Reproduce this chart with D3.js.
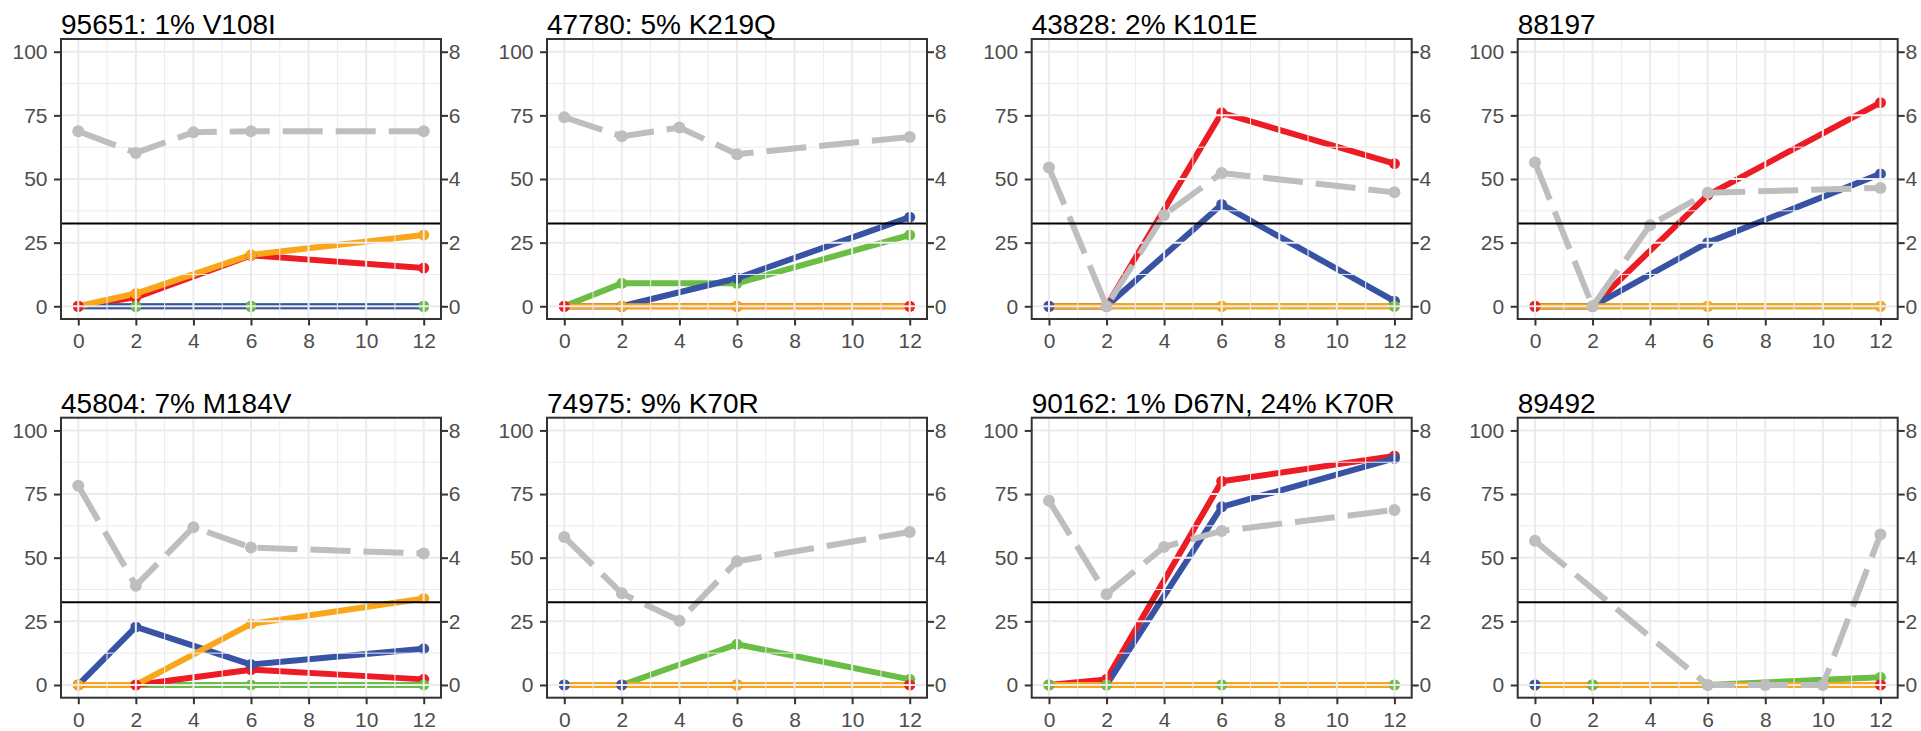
<!DOCTYPE html>
<html><head><meta charset="utf-8">
<script src="https://cdn.jsdelivr.net/npm/d3@7"></script>
<style>
body{margin:0;background:#fff}
svg{display:block}
text{font-family:"Liberation Sans",Arial,Helvetica,sans-serif}
</style>
</head><body>
<svg id="chart" width="1921" height="731"></svg>
<script>
// ---------------- data ----------------
const titles = ["95651: 1% V108I", "47780: 5% K219Q", "43828: 2% K101E", "88197",
                "45804: 7% M184V", "74975: 9% K70R", "90162: 1% D67N, 24% K70R", "89492"];
const mutTimes = [[0,2,6,12],[0,2,6,12],[0,2,6,12],[0,2,6,12],
                  [0,2,6,12],[0,2,6,12],[0,2,6,12],[0,2,6,12]];
const redVals    = [[0,3.5,20,15],[0,0,0,0],[0,0,76,56],[0,0,43.7,80],
                    [0,0,6,2.2],[0,0,0,0],[0,2.2,80,90],[0,0,0,0]];
const blueVals   = [[0,0,0,0],[0,0,11,35],[0,0,40,2],[0,0,25,52],
                    [0,22.8,8,14.2],[0,0,0,0],[0,0,70,89],[0,0,0,0]];
const greenVals  = [[0,0,0,0],[0,9,9,28],[0,0,0,0],[0,0,0,0],
                    [0,0,0,0],[0,0,16,2.2],[0,0,0,0],[0,0,0,3]];
const orangeVals = [[0,5,20.2,28],[0,0,0,0],[0,0,0,0],[0,0,0,0],
                    [0,0,24,34],[0,0,0,0],[0,0,0,0],[0,0,0,0]];
// series whose dot is drawn last at each mutation time point
const dotOnTop = [["red","green","green","green"],["red","orange","orange","red"],
                  ["blue","orange","orange","green"],["red","orange","orange","orange"],
                  ["orange","red","green","green"],["blue","blue","orange","red"],
                  ["green","green","green","green"],["blue","green","orange","red"]];
// secondary (right axis) series, dashed grey
const vlTimes  = [[0,2,4,6,12],[0,2,4,6,12],[0,2,4,6,12],[0,2,4,6,12],
                  [0,2,4,6,12],[0,2,4,6,12],[0,2,4,6,12],[0,6,8,10,12]];
const vlValues = [[5.5,4.82,5.47,5.5,5.5],[5.94,5.34,5.62,4.78,5.32],
                  [4.36,0,2.87,4.19,3.58],[4.52,0,2.55,3.57,3.72],
                  [6.26,3.12,4.96,4.32,4.13],[4.65,2.88,2.02,3.89,4.81],
                  [5.79,2.85,4.34,4.84,5.5],[4.53,0,0,0,4.73]];
const thresholdValue = 32.5;
const leftTicks  = [0,25,50,75,100];
const leftMinor  = [12.5,37.5,62.5,87.5];
const rightTicks = [0,2,4,6,8];
const xTicks     = [0,2,4,6,8,10,12];
const xMinor     = [1,3,5,7,9,11];

// ---------------- style/layout ----------------
const seriesNames = ["green","red","blue","orange"];
const seriesVals = {green: greenVals, red: redVals, blue: blueVals, orange: orangeVals};
const colors = {red:"#ED1C24", blue:"#3853A4", green:"#6ABD45", orange:"#FAA61A", grey:"#BEBEBE"};
const panelLefts = [61, 547, 1031.7, 1517.7];
const rowTops = [39, 417.7];
const panelW = 380, panelH = 280;

const svg = d3.select("#chart");
svg.append("rect").attr("width",1921).attr("height",731).attr("fill","#fff");

titles.forEach((title, p) => {
  const L = panelLefts[p % 4], T = rowTops[Math.floor(p / 4)];
  const R = L + panelW, B = T + panelH;
  const x = d3.scaleLinear().domain([-0.6, 12.6]).range([L, R]);
  const y = d3.scaleLinear().domain([-5, 105]).range([B, T]);
  const yR = d3.scaleLinear().domain([-0.4, 8.4]).range([B, T]);
  const g = svg.append("g");
  const clipId = "clip" + p;
  svg.append("clipPath").attr("id", clipId).append("rect")
     .attr("x", L).attr("y", T).attr("width", panelW).attr("height", panelH);
  const pg = g.append("g").attr("clip-path", `url(#${clipId})`);

  // coloured lines
  const line = d3.line().x(d => x(d[0])).y(d => y(d[1]));
  seriesNames.forEach(s => {
    const pts = mutTimes[p].map((t, i) => [t, seriesVals[s][p][i]]);
    pg.append("path").datum(pts).attr("d", line)
      .attr("fill","none").attr("stroke", colors[s]).attr("stroke-width", 6)
      .attr("stroke-linejoin","round");
  });
  // coloured dots
  const dots = [];
  mutTimes[p].forEach((t, i) => {
    seriesNames.forEach((s, k) => {
      dots.push({t, v: seriesVals[s][p][i], s, key: k + (dotOnTop[p][i] === s ? 10 : 0)});
    });
  });
  dots.sort((a, b) => a.key - b.key);
  pg.selectAll("circle.dot").data(dots).enter().append("circle")
    .attr("cx", d => x(d.t)).attr("cy", d => y(d.v)).attr("r", 5.5)
    .attr("fill", d => colors[d.s]);

  // grid drawn over coloured data
  const grid = pg.append("g").attr("stroke", "#EBEBEB");
  xMinor.forEach(v => grid.append("line").attr("x1", x(v)).attr("x2", x(v)).attr("y1", T).attr("y2", B).attr("stroke-width", 1));
  leftMinor.forEach(v => grid.append("line").attr("y1", y(v)).attr("y2", y(v)).attr("x1", L).attr("x2", R).attr("stroke-width", 1));
  xTicks.forEach(v => grid.append("line").attr("x1", x(v)).attr("x2", x(v)).attr("y1", T).attr("y2", B).attr("stroke-width", 2));
  leftTicks.forEach(v => grid.append("line").attr("y1", y(v)).attr("y2", y(v)).attr("x1", L).attr("x2", R).attr("stroke-width", 2));

  // grey dashed secondary series
  const vlPts = vlTimes[p].map((t, i) => [t, vlValues[p][i]]);
  pg.append("path").datum(vlPts)
    .attr("d", d3.line().x(d => x(d[0])).y(d => yR(d[1])))
    .attr("fill","none").attr("stroke", colors.grey).attr("stroke-width", 6)
    .attr("stroke-dasharray","40,13").attr("stroke-linejoin","round");
  pg.selectAll("circle.vl").data(vlPts).enter().append("circle")
    .attr("cx", d => x(d[0])).attr("cy", d => yR(d[1])).attr("r", 6)
    .attr("fill", colors.grey);

  // threshold line
  pg.append("line").attr("x1", L).attr("x2", R)
    .attr("y1", y(thresholdValue)).attr("y2", y(thresholdValue))
    .attr("stroke", "#000").attr("stroke-width", 2);

  // panel border
  g.append("rect").attr("x", L).attr("y", T).attr("width", panelW).attr("height", panelH)
   .attr("fill","none").attr("stroke","#333").attr("stroke-width", 2);

  // axes
  const styleAxis = sel => {
    sel.select(".domain").remove();
    sel.selectAll(".tick line").attr("stroke","#333").attr("stroke-width", 2);
    sel.selectAll(".tick text").attr("fill","#4D4D4D").style("font-size","21px")
       .style("font-family", '"Liberation Sans", Arial, sans-serif');
  };
  g.append("g").attr("transform", `translate(${L},0)`)
   .call(d3.axisLeft(y).tickValues(leftTicks).tickSize(7).tickPadding(6.5).tickFormat(d3.format("d")))
   .call(styleAxis);
  g.append("g").attr("transform", `translate(${R},0)`)
   .call(d3.axisRight(yR).tickValues(rightTicks).tickSize(7).tickPadding(0.8).tickFormat(d3.format("d")))
   .call(styleAxis);
  g.append("g").attr("transform", `translate(0,${B})`)
   .call(d3.axisBottom(x).tickValues(xTicks).tickSize(6.5).tickPadding(7.5).tickFormat(d3.format("d")))
   .call(styleAxis);

  // title
  g.append("text").attr("x", L).attr("y", T - 5).attr("fill", "#000")
   .style("font-size", "28px").text(title);
});
</script>
</body></html>
